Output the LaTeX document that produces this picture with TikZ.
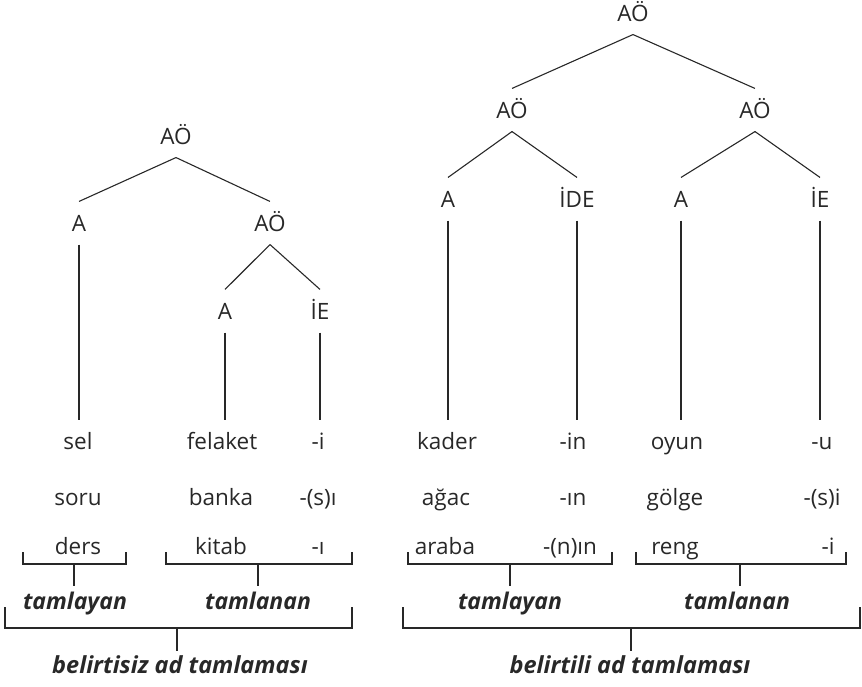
\documentclass[tikz,border=0pt]{standalone}
\usepackage{fontspec}
\setmainfont{Open Sans}
\usepackage{tikz}
\usetikzlibrary{positioning}
\definecolor{trink}{RGB}{40,40,40}

\begin{document}
\begin{tikzpicture}[x=1pt, y=-1pt, line width=1.1pt, draw=trink,
  every node/.style={text=trink},
  cat/.style={inner sep=0pt, minimum height=42pt, text height=17pt, text depth=1pt,
              font=\fontsize{22.5}{26}\selectfont},
  word/.style={inner sep=0pt, minimum height=44pt, text height=17pt, text depth=5pt,
               font=\fontsize{22.5}{26}\selectfont},
  role/.style={inner sep=0pt, minimum height=32pt, text height=17pt, text depth=5pt,
               font=\fontsize{23}{27}\bfseries\itshape},
  kind/.style={inner sep=0pt, minimum height=30pt, text height=17pt, text depth=5pt,
               font=\fontsize{23.5}{27}\bfseries\itshape}]
  \useasboundingbox (0,0) rectangle (862,686);

  % Left tree
  \node[cat] (t1) at (176,136) {AÖ};
  \node[cat] (a1) at (79,223) {A};
  \node[cat] (n1) at (270,223) {AÖ};
  \node[cat] (a2) at (225,311) {A};
  \node[cat] (e1) at (320,311) {İE};
  \draw (t1.south) -- (a1.north);
  \draw (t1.south) -- (n1.north);
  \draw (n1.south) -- (a2.north);
  \draw (n1.south) -- (e1.north);

  % Left words
  \node[word] (sel) at (78,443) {sel};
  \node[word] (felaket) at (222,443) {felaket};
  \node[word] (ekI) at (318,443) {-i};
  \node[word] (soru) at (78,499) {soru};
  \node[word] (banka) at (221,499) {banka};
  \node[word] (ekSI) at (318,499) {-(s)ı};
  \node[word] (ders) at (78,548) {ders};
  \node[word] (kitab) at (221,548) {kitab};
  \node[word] (ekDI) at (318,548) {-ı};
  \draw (a1.south) -- (a1.south |- sel.north);
  \draw (a2.south) -- (a2.south |- felaket.north);
  \draw (e1.south) -- (e1.south |- ekI.north);

  % Right tree
  \node[cat] (t2) at (633,13) {AÖ};
  \node[cat] (n2) at (512,110) {AÖ};
  \node[cat] (n3) at (755,110) {AÖ};
  \node[cat] (a3) at (448,199) {A};
  \node[cat] (d1) at (577,199) {İDE};
  \node[cat] (a4) at (681,199) {A};
  \node[cat] (e2) at (820,199) {İE};
  \draw (t2.south) -- (n2.north);
  \draw (t2.south) -- (n3.north);
  \draw (n2.south) -- (a3.north);
  \draw (n2.south) -- (d1.north);
  \draw (n3.south) -- (a4.north);
  \draw (n3.south) -- (e2.north);

  % Right words
  \node[word] (kader) at (447,443) {kader};
  \node[word] (ekIN) at (573,443) {-in};
  \node[word] (oyun) at (677,443) {oyun};
  \node[word] (ekU) at (822,443) {-u};
  \node[word] (agac) at (446,499) {ağac};
  \node[word] (ekDIN) at (573,499) {-ın};
  \node[word] (golge) at (675,499) {gölge};
  \node[word] (ekSIi) at (822,499) {-(s)i};
  \node[word] (araba) at (445,548) {araba};
  \node[word] (ekNIN) at (570,548) {-(n)ın};
  \node[word] (reng) at (675,548) {reng};
  \node[word] (ekIi) at (828,548) {-i};
  \draw (a3.south) -- (a3.south |- kader.north);
  \draw (d1.south) -- (d1.south |- ekIN.north);
  \draw (a4.south) -- (a4.south |- oyun.north);
  \draw (e2.south) -- (e2.south |- ekU.north);

  % Role labels
  \node[role] (tlyL) at (75,603) {tamlayan};
  \node[role] (tlnL) at (258,603) {tamlanan};
  \node[role] (tlyR) at (510,603) {tamlayan};
  \node[role] (tlnR) at (737,603) {tamlanan};
  \node[kind] (belsiz) at (180,667) {belirtisiz ad tamlaması};
  \node[kind] (belli) at (630,667) {belirtili ad tamlaması};

  % Small brackets
  \coordinate (m1) at (74,564);
  \coordinate (m2) at (258,564);
  \coordinate (m3) at (510,564);
  \coordinate (m4) at (740,564);
  \draw (23,552) |- (126,564) -- (126,552);
  \draw (166,552) |- (352,564) -- (352,552);
  \draw (408,552) |- (612,564) -- (612,552);
  \draw (636,552) |- (846,564) -- (846,552);
  \draw (m1) -- (m1 |- tlyL.north);
  \draw (m2) -- (m2 |- tlnL.north);
  \draw (m3) -- (m3 |- tlyR.north);
  \draw (m4) -- (m4 |- tlnR.north);

  % Big brackets
  \coordinate (m5) at (177,628);
  \coordinate (m6) at (631,628);
  \draw (5,607) |- (352,628) -- (352,607);
  \draw (403,607) |- (860,628) -- (860,607);
  \draw (m5) -- (m5 |- belsiz.north);
  \draw (m6) -- (m6 |- belli.north);
\end{tikzpicture}
\end{document}
